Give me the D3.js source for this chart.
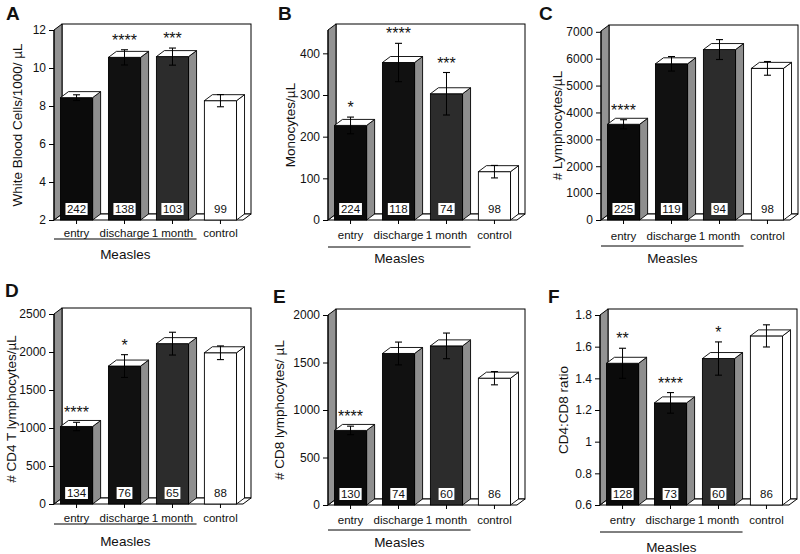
<!DOCTYPE html>
<html><head><meta charset="utf-8">
<script src="https://cdn.jsdelivr.net/npm/d3@7"></script>
<style>
body{margin:0;background:#fff}
text{font-family:"Liberation Sans",Arial,Helvetica,sans-serif;fill:#111}
</style>
</head><body>
<svg id="c" width="800" height="554"></svg>
<script>
// ---------- data ----------
const categories = ["entry", "discharge", "1 month", "control"];
const panelLetters = ["A", "B", "C", "D", "E", "F"];
const yLabels = ["White Blood Cells/1000/ \u00b5L", "Monocytes/\u00b5L", "# Lymphocytes/\u00b5L",
                 "# CD4 T lymphocytes/\u00b5L", "# CD8 lymphocytes/ \u00b5L", "CD4:CD8 ratio"];
const groupLabel = "Measles";

const valuesA = [8.44, 10.56, 10.6, 8.28];
const semA    = [0.15, 0.4, 0.45, 0.32];
const nA      = ["242", "138", "103", "99"];
const starsA  = ["", "****", "***", ""];
const ticksA  = [2, 4, 6, 8, 10, 12];
const tickLabelsA = ["2", "4", "6", "8", "10", "12"];
const domainA = [2, 12];

const valuesB = [227, 378, 303, 116];
const semB    = [20, 46, 51, 15];
const nB      = ["224", "118", "74", "98"];
const starsB  = ["*", "****", "***", ""];
const ticksB  = [0, 100, 200, 300, 400];
const tickLabelsB = ["0", "100", "200", "300", "400"];
const domainB = [0, 456];

const valuesC = [3560, 5810, 6340, 5640];
const semC    = [170, 270, 370, 255];
const nC      = ["225", "119", "94", "98"];
const starsC  = ["****", "", "", ""];
const ticksC  = [0, 1000, 2000, 3000, 4000, 5000, 6000, 7000];
const tickLabelsC = ["0", "1000", "2000", "3000", "4000", "5000", "6000", "7000"];
const domainC = [0, 7030];

const valuesD = [1020, 1815, 2110, 1990];
const semD    = [55, 150, 150, 90];
const nD      = ["134", "76", "65", "88"];
const starsD  = ["****", "*", "", ""];
const ticksD  = [0, 500, 1000, 1500, 2000, 2500];
const tickLabelsD = ["0", "500", "1000", "1500", "2000", "2500"];
const domainD = [0, 2500];

const valuesE = [785, 1595, 1675, 1335];
const semE    = [45, 120, 135, 70];
const nE      = ["130", "74", "60", "86"];
const starsE  = ["****", "", "", ""];
const ticksE  = [0, 500, 1000, 1500, 2000];
const tickLabelsE = ["0", "500", "1000", "1500", "2000"];
const domainE = [0, 2000];

const valuesF = [1.495, 1.245, 1.525, 1.668];
const semF    = [0.095, 0.065, 0.105, 0.07];
const nF      = ["128", "73", "60", "86"];
const starsF  = ["**", "****", "*", ""];
const ticksF  = [0.6, 0.8, 1, 1.2, 1.4, 1.6, 1.8];
const tickLabelsF = ["0.6", "0.8", "1", "1.2", "1.4", "1.6", "1.8"];
const domainF = [0.6, 1.8];

const panelData = [
  {values: valuesA, sem: semA, n: nA, stars: starsA, ticks: ticksA, tickLabels: tickLabelsA, domain: domainA},
  {values: valuesB, sem: semB, n: nB, stars: starsB, ticks: ticksB, tickLabels: tickLabelsB, domain: domainB},
  {values: valuesC, sem: semC, n: nC, stars: starsC, ticks: ticksC, tickLabels: tickLabelsC, domain: domainC},
  {values: valuesD, sem: semD, n: nD, stars: starsD, ticks: ticksD, tickLabels: tickLabelsD, domain: domainD},
  {values: valuesE, sem: semE, n: nE, stars: starsE, ticks: ticksE, tickLabels: tickLabelsE, domain: domainE},
  {values: valuesF, sem: semF, n: nF, stars: starsF, ticks: ticksF, tickLabels: tickLabelsF, domain: domainF}
];

// ---------- layout ----------
const layout = [
  {ax: 54,  top: 30,  bottom: 220, lx: 6,   ly: 20,  ylx: 17,  catDy: 17, lineDy: 19, measDy: 39},
  {ax: 328, top: 30,  bottom: 220, lx: 278, ly: 20,  ylx: 290, catDy: 19, lineDy: 27, measDy: 43},
  {ax: 601, top: 31,  bottom: 220, lx: 539, ly: 20,  ylx: 557, catDy: 20, lineDy: 26, measDy: 43},
  {ax: 54,  top: 314, bottom: 504, lx: 5,   ly: 297, ylx: 11,  catDy: 18, lineDy: 20, measDy: 42},
  {ax: 328, top: 315, bottom: 505, lx: 273, ly: 303, ylx: 279, catDy: 19, lineDy: 25, measDy: 42},
  {ax: 600, top: 315, bottom: 505, lx: 548, ly: 303, ylx: 563, catDy: 19, lineDy: 27, measDy: 47}
];
const W = 189, DX = 8, DY = 6;
const frontColors = ["#0b0b0b", "#111111", "#2c2c2c", "#ffffff"];
const sideColors  = ["#8e8e8e", "#8e8e8e", "#8e8e8e", "#ffffff"];
const wallGray = "#939393";

const svg = d3.select("#c");

panelData.forEach((p, pi) => {
  const L = layout[pi];
  const g = svg.append("g");
  const y = d3.scaleLinear().domain(p.domain).range([L.bottom, L.top]);
  const x = d3.scaleBand().domain(categories).range([L.ax, L.ax + W]).paddingInner(0.33).paddingOuter(0.135);
  const y0 = L.bottom, yT = L.top;

  // back wall
  g.append("rect").attr("x", L.ax + DX).attr("y", yT - DY).attr("width", W).attr("height", y0 - yT)
    .attr("fill", "#fff").attr("stroke", "#000").attr("stroke-width", 1);
  // floor
  g.append("polygon").attr("points", [[L.ax, y0], [L.ax + W, y0], [L.ax + W + DX, y0 - DY], [L.ax + DX, y0 - DY]].join(" "))
    .attr("fill", "#fff").attr("stroke", "#000").attr("stroke-width", 1);
  // left wall
  g.append("polygon").attr("points", [[L.ax, y0], [L.ax, yT], [L.ax + DX, yT - DY], [L.ax + DX, y0 - DY]].join(" "))
    .attr("fill", wallGray).attr("stroke", "#000").attr("stroke-width", 1);

  // bars
  categories.forEach((c, i) => {
    const v = p.values[i];
    const bx = x(c), bw = x.bandwidth(), yv = y(v);
    const bg = g.append("g");
    bg.append("polygon").attr("points", [[bx + bw, yv], [bx + bw + DX, yv - DY], [bx + bw + DX, y0 - DY], [bx + bw, y0]].join(" "))
      .attr("fill", sideColors[i]).attr("stroke", "#000").attr("stroke-width", 0.9);
    bg.append("rect").attr("x", bx).attr("y", yv).attr("width", bw).attr("height", y0 - yv)
      .attr("fill", frontColors[i]).attr("stroke", "#000").attr("stroke-width", 0.9);
    bg.append("polygon").attr("points", [[bx, yv], [bx + DX, yv - DY], [bx + bw + DX, yv - DY], [bx + bw, yv]].join(" "))
      .attr("fill", "#fff").attr("stroke", "#000").attr("stroke-width", 0.9);

    // error bar
    const cx = bx + bw / 2;
    const yHi = y(v + p.sem[i]), yLo = y(v - p.sem[i]);
    bg.append("line").attr("x1", cx).attr("x2", cx).attr("y1", yHi).attr("y2", yLo).attr("stroke", "#000").attr("stroke-width", 1);
    bg.append("line").attr("x1", cx - 3.5).attr("x2", cx + 3.5).attr("y1", yHi).attr("y2", yHi).attr("stroke", "#000").attr("stroke-width", 1.1);
    bg.append("line").attr("x1", cx - 3.5).attr("x2", cx + 3.5).attr("y1", yLo).attr("y2", yLo).attr("stroke", "#000").attr("stroke-width", 1.1);

    // significance stars
    if (p.stars[i]) {
      bg.append("text").attr("x", cx).attr("y", yHi - 4).attr("text-anchor", "middle")
        .attr("font-size", 16).text(p.stars[i]);
    }

    // n label
    const t = bg.append("text").attr("x", cx).attr("y", y0 - 7).attr("text-anchor", "middle")
      .attr("font-size", 11.5).text(p.n[i]);
    if (i < 3) {
      const bb = t.node().getBBox();
      bg.insert("rect", "text:last-of-type").attr("x", cx - bb.width / 2 - 1.5).attr("y", y0 - 17)
        .attr("width", bb.width + 3).attr("height", 12).attr("fill", "#fff");
    }
  });

  // y axis
  const ya = g.append("g").attr("transform", `translate(${L.ax},0)`)
    .call(d3.axisLeft(y).tickValues(p.ticks).tickFormat((d, i) => p.tickLabels[i]).tickSize(5).tickPadding(3).tickSizeOuter(0));
  ya.select(".domain").attr("d", `M0,${y0}V${yT}`).attr("stroke", "#000");
  ya.selectAll("text").attr("font-size", 12).style("font-family", "'Liberation Sans',Arial,sans-serif").attr("fill", "#111");

  // x axis ticks + category labels
  const xa = g.append("g").attr("transform", `translate(0,${y0})`)
    .call(d3.axisBottom(x).tickSize(4).tickSizeOuter(0));
  xa.select(".domain").remove();
  xa.selectAll("text").attr("y", L.catDy).attr("dy", 0).attr("font-size", 11.5)
    .style("font-family", "'Liberation Sans',Arial,sans-serif").attr("fill", "#111");

  // Measles group line
  const x1 = L.ax, x2 = x(categories[2]) + x.bandwidth() + 8;
  g.append("line").attr("x1", x1).attr("x2", x2).attr("y1", y0 + L.lineDy).attr("y2", y0 + L.lineDy)
    .attr("stroke", "#000").attr("stroke-width", 1);
  g.append("text").attr("x", (x1 + x2) / 2).attr("y", y0 + L.measDy).attr("text-anchor", "middle")
    .attr("font-size", 13.5).text(groupLabel);

  // y label
  g.append("text").attr("transform", `translate(${L.ylx},${(y0 + yT) / 2}) rotate(-90)`)
    .attr("text-anchor", "middle").attr("dy", "0.35em").attr("font-size", 13.5).text(yLabels[pi]);

  // panel letter
  g.append("text").attr("x", L.lx).attr("y", L.ly).attr("font-size", 19).attr("font-weight", "bold")
    .text(panelLetters[pi]);
});
</script>
</body></html>
